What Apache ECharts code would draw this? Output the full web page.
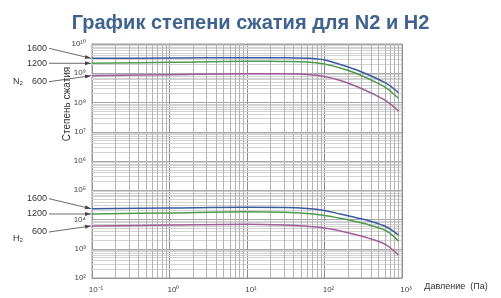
<!DOCTYPE html>
<html><head><meta charset="utf-8">
<script src="https://cdn.jsdelivr.net/npm/echarts@6/dist/echarts.min.js"></script>
<style>html,body{margin:0;padding:0;background:#fff}#c{width:501px;height:298px}</style>
</head><body><div id="c"></div><script>
// Pressure, Pa
const pressure = [0.1, 1, 10, 30, 60, 100, 160, 250, 400, 630, 900];
// N2 compression ratio
const n2_1600 = [3.24e9, 3.32e9, 3.40e9, 3.37e9, 3.24e9, 2.84e9, 1.99e9, 1.34e9, 8.05e8, 4.47e8, 2.16e8];
const n2_1200 = [2.19e9, 2.37e9, 2.56e9, 2.52e9, 2.43e9, 2.07e9, 1.51e9, 1.02e9, 5.87e8, 3.13e8, 1.39e8];
const n2_600  = [8.24e8, 8.91e8, 9.66e8, 9.57e8, 9.06e8, 7.74e8, 5.65e8, 3.66e8, 2.11e8, 1.12e8, 5.12e7];
// H2 compression ratio
const h2_1600 = [2.34e4, 2.47e4, 2.61e4, 2.57e4, 2.38e4, 2.03e4, 1.54e4, 1.17e4, 8.55e3, 5.55e3, 2.95e3];
const h2_1200 = [1.54e4, 1.68e4, 1.83e4, 1.76e4, 1.60e4, 1.37e4, 1.10e4, 8.55e3, 6.24e3, 4.05e3, 1.84e3];
const h2_600  = [6.00e3, 6.46e3, 6.90e3, 6.49e3, 5.86e3, 5.12e3, 4.05e3, 3.07e3, 2.15e3, 1.34e3, 611];

const speedLabels = ['1600', '1200', '600'];
const titleText = 'График степени сжатия для N2 и H2';
const yName = 'Степень сжатия';
const xName = 'Давление  (Па)';
const groupNames = ['N₂', 'H₂'];

const colors = ['#3b5a9e', '#4f9a4f', '#9e5f98'];

const supMap = {'-':'⁻','0':'⁰','1':'¹','2':'²','3':'³','4':'⁴','5':'⁵','6':'⁶','7':'⁷','8':'⁸','9':'⁹'};
const sup = n => String(n).split('').map(c => supMap[c]).join('');
const powLabel = v => '10' + sup(Math.round(Math.log10(v)));

// minor grid (log paper)
const minorX = [], minorY = [];
for (let e = -1; e < 3; e++) for (let k = 2; k <= 9; k++) minorX.push({xAxis: k * Math.pow(10, e)});
for (let e = 2; e < 10; e++) for (let k = 2; k <= 9; k++) minorY.push({yAxis: k * Math.pow(10, e)});

const groups = [[n2_1600, n2_1200, n2_600], [h2_1600, h2_1200, h2_600]];
const series = [];
series.push({
  type: 'line', data: [], silent: true,
  markLine: { silent: true, symbol: 'none', label: {show: false}, animation: false,
    lineStyle: {color: '#d2d2d2', width: 1, type: 'solid'}, data: minorY }
});
series.push({
  type: 'line', data: [], silent: true,
  markLine: { silent: true, symbol: 'none', label: {show: false}, animation: false,
    lineStyle: {color: '#b4b4b4', width: 1, type: 'solid'}, data: minorX }
});
groups.forEach(g => g.forEach((arr, i) => {
  series.push({
    type: 'line', smooth: 0.35, symbol: 'none', animation: false,
    data: pressure.map((p, j) => [p, arr[j]]),
    lineStyle: {color: colors[i], width: 1.5}, z: 5
  });
}));

const chart = echarts.init(document.getElementById('c'), null, {renderer: 'canvas'});
chart.setOption({
  animation: false,
  backgroundColor: '#fff',
  title: { text: titleText, left: 'center', top: 8,
    textStyle: {fontFamily: 'Liberation Sans, Arial', fontSize: 20, fontWeight: 'bold', color: '#40628f'} },
  grid: { left: 92, right: 99, top: 44, bottom: 20, show: true, borderColor: '#999', borderWidth: 1 },
  xAxis: { type: 'log', logBase: 10, min: 0.1, max: 1000, splitNumber: 4,
    axisLine: {show: true, lineStyle: {color: '#999'}}, axisTick: {show: false},
    splitLine: {show: true, lineStyle: {color: '#8c8c8c', width: 1}},
    axisLabel: { formatter: powLabel, fontSize: 8, color: '#444', fontFamily: 'Liberation Sans, Arial', margin: 8, padding: [0,0,0,8] } },
  yAxis: { type: 'log', logBase: 10, min: 100, max: 1e10, splitNumber: 8,
    axisLine: {show: true, lineStyle: {color: '#999'}}, axisTick: {show: false},
    splitLine: {show: true, lineStyle: {color: '#a8a8a8', width: 1}},
    axisLabel: { formatter: powLabel, fontSize: 8, color: '#444', fontFamily: 'Liberation Sans, Arial', margin: 6 } },
  series: series
});

// annotations: labels with arrows pointing at curve starts
const graphics = [];
const textStyle = {fontFamily: 'Liberation Sans, Arial', fontSize: 9, fill: '#333'};
const labelDy = [-10, 0, 6];
groups.forEach((g, gi) => {
  let lastY = 0;
  g.forEach((arr, i) => {
    const pt = chart.convertToPixel({gridIndex: 0}, [pressure[0], arr[0]]);
    const tx = 47, ty = pt[1] + labelDy[i];
    lastY = ty;
    graphics.push({type: 'text', x: tx, y: ty, style: Object.assign({text: speedLabels[i], align: 'right', verticalAlign: 'middle'}, textStyle)});
    const ex = pt[0] - 1, ey = pt[1];
    const sx = tx + 2, sy = ty;
    graphics.push({type: 'line', shape: {x1: sx, y1: sy, x2: ex, y2: ey}, style: {stroke: '#444', lineWidth: 0.8}});
    const ang = Math.atan2(ey - sy, ex - sx), L = 6, W = 2;
    const bx = ex - L * Math.cos(ang), by = ey - L * Math.sin(ang);
    graphics.push({type: 'polygon', shape: {points: [[ex, ey],
      [bx + W * Math.sin(ang), by - W * Math.cos(ang)], [bx - W * Math.sin(ang), by + W * Math.cos(ang)]]},
      style: {fill: '#444'}});
  });
  graphics.push({type: 'text', x: 18, y: lastY + (gi === 0 ? 0 : 7), style: Object.assign({text: groupNames[gi], align: 'center', verticalAlign: 'middle'}, textStyle)});
});
graphics.push({type: 'text', x: 67, y: 104, rotation: Math.PI / 2,
  style: Object.assign({text: yName, align: 'center', verticalAlign: 'middle'}, textStyle, {fontSize: 10})});
graphics.push({type: 'text', x: 456, y: 287,
  style: Object.assign({text: xName, align: 'center', verticalAlign: 'middle'}, textStyle, {fontSize: 9})});
chart.setOption({graphic: graphics});
</script></body></html>
